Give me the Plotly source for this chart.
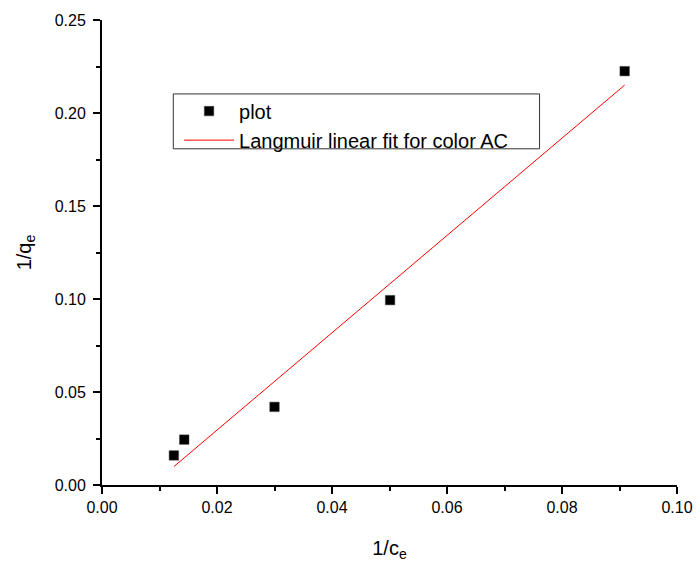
import plotly.graph_objects as go

# Data
inv_ce = [0.0125, 0.0143, 0.0300, 0.0501, 0.0909]
inv_qe = [0.0159, 0.0244, 0.0420, 0.0994, 0.2225]

fit_x = [0.0125, 0.0909]
fit_y = [0.0099, 0.2150]

x_ticks = [0.00, 0.02, 0.04, 0.06, 0.08, 0.10]
y_ticks = [0.00, 0.05, 0.10, 0.15, 0.20, 0.25]

FONT = "Arial, Liberation Sans, sans-serif"

fig = go.Figure()
fig.add_trace(go.Scatter(
    x=inv_ce, y=inv_qe, mode="markers", name="plot",
    marker=dict(symbol="square", size=9.5, color="black",
                line=dict(width=0.5, color="#444")),
))
fig.add_trace(go.Scatter(
    x=fit_x, y=fit_y, mode="lines", name="Langmuir linear fit for color AC",
    line=dict(color="red", width=1),
))

axis_common = dict(
    showline=True, linecolor="black", linewidth=2,
    ticks="outside", ticklen=7, tickwidth=2, tickcolor="black",
    showgrid=False, zeroline=False, mirror=False, automargin=False,
    tickfont=dict(family=FONT, size=16, color="black"),
    tickformat=".2f",
)

fig.update_xaxes(
    range=[0, 0.10], tickvals=x_ticks,
    minor=dict(ticks="outside", ticklen=4, tickwidth=2, tickcolor="black", dtick=0.01),
    title=dict(text="1/c<sub>e</sub>", font=dict(family=FONT, size=20, color="black"), standoff=26),
    **axis_common,
)
fig.update_yaxes(
    range=[0, 0.25], tickvals=y_ticks,
    minor=dict(ticks="outside", ticklen=4, tickwidth=2, tickcolor="black", dtick=0.025),
    title=dict(text="1/q<sub>e</sub>", font=dict(family=FONT, size=20, color="black"), standoff=18),
    ticklabelstandoff=4,
    **axis_common,
)

fig.update_layout(
    width=700, height=570,
    margin=dict(l=102, r=23, t=20, b=85),
    paper_bgcolor="white", plot_bgcolor="white",
    showlegend=True,
    legend=dict(
        x=0.134, y=0.846, xanchor="left", yanchor="top",
        bgcolor="rgba(0,0,0,0)", borderwidth=0,
        font=dict(family=FONT, size=20, color="black"),
        itemwidth=50, tracegroupgap=0,
    ),
    shapes=[dict(
        type="rect", xref="paper", yref="paper",
        x0=0.124, x1=0.761, y0=0.723, y1=0.841,
        line=dict(color="#333", width=1), fillcolor="rgba(0,0,0,0)",
        layer="above",
    )],
)

fig.write_html("out.html", config={"displayModeBar": False},
               post_script="document.body.style.margin='0';")
